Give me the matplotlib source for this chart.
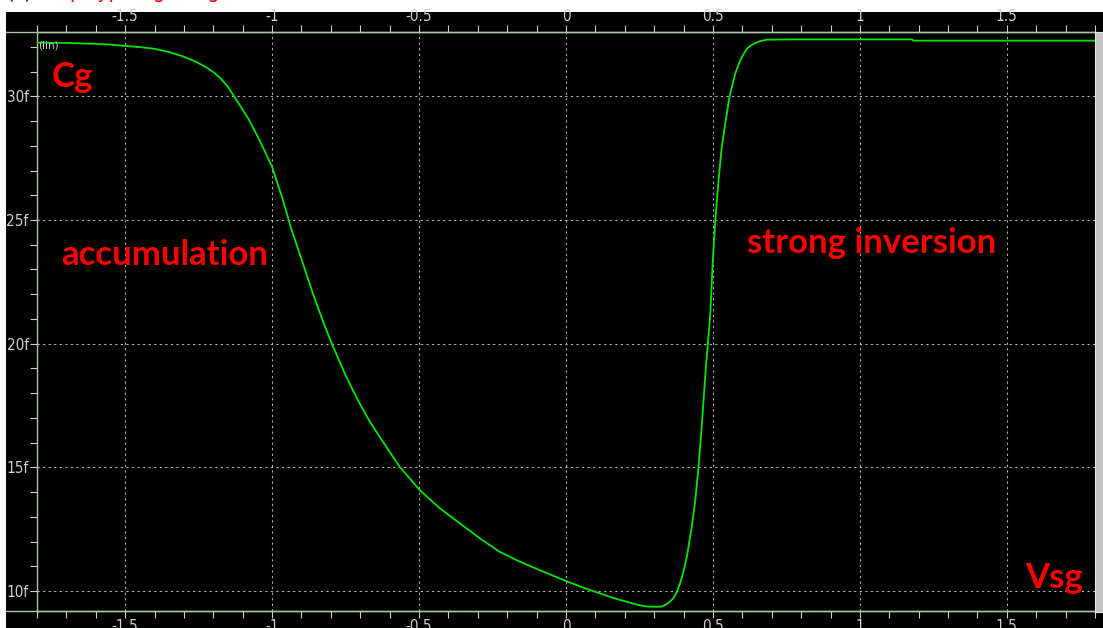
import matplotlib
matplotlib.use("Agg")
import matplotlib.pyplot as plt
from matplotlib.patches import Rectangle
from matplotlib.lines import Line2D
from matplotlib.ticker import MultipleLocator

# Cg (fF) vs Vsg (V)
vsg = [-1.80, -1.70, -1.60, -1.55, -1.50, -1.45, -1.40, -1.35, -1.30, -1.275,
       -1.25, -1.225, -1.20, -1.175, -1.15, -1.128, -1.105, -1.08, -1.04,
       -1.00, -0.963, -0.935, -0.90, -0.861, -0.83, -0.798, -0.75, -0.708,
       -0.67, -0.634, -0.566, -0.497, -0.43, -0.361, -0.29, -0.225, -0.16,
       -0.089, 0.00, 0.06, 0.116, 0.16, 0.207, 0.24, 0.275, 0.30, 0.325,
       0.345, 0.365, 0.377, 0.388, 0.40, 0.411, 0.428, 0.440, 0.451, 0.460,
       0.468, 0.476, 0.483, 0.491, 0.499, 0.508, 0.519, 0.530, 0.542, 0.556,
       0.576, 0.593, 0.605, 0.616, 0.63, 0.644, 0.66, 0.684, 0.763, 1.178,
       1.182, 1.80]
cg = [32.17, 32.16, 32.12, 32.09, 32.04, 31.99, 31.92, 31.79, 31.60, 31.48,
      31.34, 31.18, 30.98, 30.72, 30.38, 29.97, 29.55, 29.08, 28.16,
      27.14, 25.80, 24.65, 23.41, 22.02, 21.00, 20.03, 18.72, 17.71,
      16.90, 16.23, 15.02, 14.07, 13.35, 12.73, 12.10, 11.58, 11.20,
      10.84, 10.40, 10.13, 9.90, 9.72, 9.56, 9.45, 9.37, 9.36, 9.37,
      9.48, 9.70, 9.95, 10.30, 10.80, 11.38, 12.59, 13.67, 15.02, 16.37,
      17.71, 19.06, 20.03, 21.22, 23.24, 24.99, 26.60, 27.95, 28.90, 29.97,
      30.92, 31.46, 31.72, 31.93, 32.06, 32.15, 32.23, 32.29, 32.30, 32.30,
      32.25, 32.25]

x_major = [-1.5, -1, -0.5, 0, 0.5, 1, 1.5]
x_labels = ["-1.5", "-1", "-0.5", "0", "0.5", "1", "1.5"]
y_major = [10, 15, 20, 25, 30]
y_labels = ["10f", "15f", "20f", "25f", "30f"]

W, H = 1103, 628
fig = plt.figure(figsize=(W / 100, H / 100), dpi=100, facecolor="white")

# black window area of the waveform viewer
fig.patches.append(Rectangle((6 / W, 0), 1 - 6 / W, (H - 12) / H,
                             transform=fig.transFigure, facecolor="black",
                             edgecolor="none", zorder=-5))

axcol = "#a4cca0"
tickcol = "#d0d0d0"
ax = fig.add_axes([37 / W, (H - 611) / H, (1095 - 37) / W, (611 - 32) / H])
ax.set_zorder(2)
ax.set_facecolor("black")
ax.plot(vsg, cg, color="#00e600", lw=1.3, zorder=3)
ax.set_xlim(-1.80, 1.80)
ax.set_ylim(9.19, 32.6)

ax.set_xticks(x_major)
ax.set_xticklabels(x_labels)
ax.xaxis.set_minor_locator(MultipleLocator(0.1))
ax.set_yticks(y_major)
ax.set_yticklabels(y_labels)
ax.yaxis.set_minor_locator(MultipleLocator(1))

ax.tick_params(axis="x", which="both", top=True, bottom=True, labeltop=True,
               labelbottom=True, direction="out", color=tickcol, length=5,
               width=0.8, pad=1, labelcolor=tickcol, labelsize=11)
ax.tick_params(axis="y", which="both", left=True, right=False, direction="out",
               color=tickcol, length=5, width=0.8, pad=1, labelcolor=tickcol,
               labelsize=11)
for t in ax.xaxis.get_major_ticks() + ax.yaxis.get_major_ticks():
    t.label1.set_fontstretch("condensed")
    t.label2.set_fontstretch("condensed")

ax.grid(True, which="major", color="#b4b4b4", lw=0.8, ls=(0, (2, 3)))
for s in ax.spines.values():
    s.set_color(axcol)
    s.set_linewidth(1)
ax.spines["right"].set_visible(False)

# axis lines run out to the window edge on the left
for yy in (32, 611):
    fig.lines.append(Line2D([6 / W, 1095 / W], [(H - yy) / H] * 2,
                            transform=fig.transFigure, color=axcol, lw=1,
                            zorder=3))

# scrollbar strip on the right
fig.patches.append(Rectangle((1095 / W, (H - 612) / H), 8 / W, (612 - 32) / H,
                             transform=fig.transFigure, facecolor="#c4c4c4",
                             edgecolor="#e8e8e8", lw=0.8, zorder=4))

ax.text(0.001, 0.985, "(lin)", transform=ax.transAxes, color="#c8c8c8",
        fontsize=7.5, ha="left", va="top")

red = dict(color="#ff0000", family="Lato", weight="bold", fontsize=25)
ax.text(-1.751, 30.36, "Cg", ha="left", va="baseline", **red)
ax.text(-1.717, 23.17, "accumulation", ha="left", va="baseline", **red)
ax.text(0.617, 23.65, "strong inversion", ha="left", va="baseline", **red)
ax.text(1.564, 10.11, "Vsg", ha="left", va="baseline", **red)

# caption clipped by the top edge of the screenshot
fig.text(6 / W, 1 + 7 / H, "(c)", color="black", fontsize=14, ha="left", va="center")
fig.text(70 / W, 1 + 7 / H, "p-type Cg,  Vsg  ,  ", color="#ff0000",
         fontsize=14, ha="left", va="center")

fig.savefig("out.png", dpi=100, facecolor="white")
